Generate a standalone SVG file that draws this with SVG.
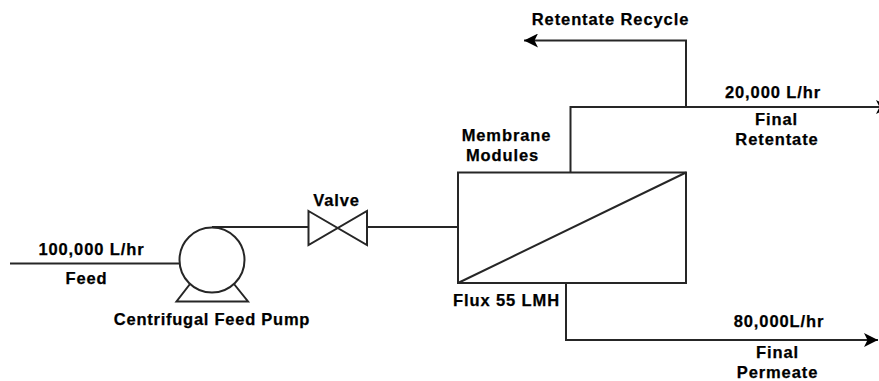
<svg xmlns="http://www.w3.org/2000/svg" width="879" height="381" viewBox="0 0 879 381">
<defs>
<style>
.l{fill:none;stroke:#262626;stroke-width:2}
.s{fill:#fff;stroke:#262626;stroke-width:2}
.t{font-family:"Liberation Sans",Arial,sans-serif;font-weight:700;font-size:16.500px;letter-spacing:.9px;fill:#000;stroke:#000;stroke-width:.25;text-anchor:middle}
</style>
<marker id="a" markerUnits="userSpaceOnUse" markerWidth="16" markerHeight="14" refX="14" refY="7" orient="auto"><path d="M0 0L14 7L0 14L3.500 7Z" fill="#000"/></marker>
</defs>
<rect width="879" height="381" fill="#fff"/>
<g id="connectors">
<path class="l" d="M10 263.500H180"/>
<path class="l" d="M212 227H308"/>
<path class="l" d="M367 227H458"/>
<path class="l" d="M570.500 172V107H890" marker-end="url(#a)"/>
<path class="l" d="M686 107V40.500H524" marker-end="url(#a)"/>
<path class="l" d="M566 283V340H878" marker-end="url(#a)"/>
</g>
<g id="pump">
<path class="l" d="M190 284L176.500 301.500H248L234 284"/>
<circle class="s" cx="212" cy="260" r="32.500"/>
</g>
<g id="valve"><path class="s" d="M308.500 211L367 245V211L308.500 245Z"/></g>
<g id="membrane">
<rect class="s" x="458" y="172.500" width="228" height="110.500"/>
<path class="l" d="M458 283L686 172.500"/>
</g>
<g id="labels">
<text class="t" x="91.500" y="255">100,000 L/hr</text>
<text class="t" x="86.500" y="284">Feed</text>
<text class="t" x="212" y="325" style="letter-spacing:.75px">Centrifugal Feed Pump</text>
<text class="t" x="336.500" y="206">Valve</text>
<text class="t" x="506.500" y="141">Membrane</text>
<text class="t" x="502.500" y="161">Modules</text>
<text class="t" x="506.500" y="306">Flux 55 LMH</text>
<text class="t" x="610.500" y="25">Retentate Recycle</text>
<text class="t" x="773" y="98">20,000 L/hr</text>
<text class="t" x="776.500" y="125">Final</text>
<text class="t" x="777" y="145">Retentate</text>
<text class="t" x="779" y="327">80,000L/hr</text>
<text class="t" x="777.500" y="358">Final</text>
<text class="t" x="777.500" y="378">Permeate</text>
</g>
</svg>
